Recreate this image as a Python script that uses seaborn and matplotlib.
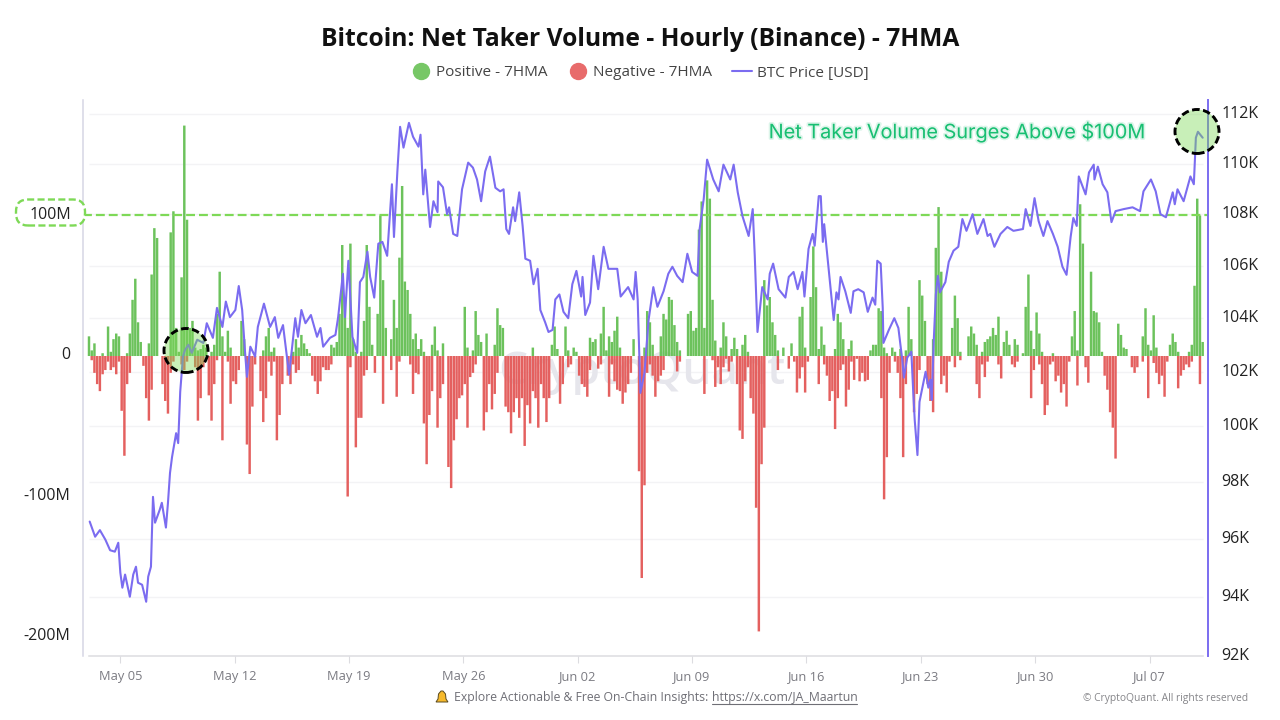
import numpy as np
import matplotlib
matplotlib.use("Agg")
import matplotlib.pyplot as plt
import matplotlib.patheffects as pe
from matplotlib.lines import Line2D
from matplotlib.patches import Circle, FancyBboxPatch, Polygon
from matplotlib.ticker import NullFormatter
from matplotlib.transforms import IdentityTransform, ScaledTranslation, blended_transform_factory
import seaborn as sns

# ---- data (hours since May 3 02:00; Net taker volume in $M on a 4-hour grid) ----
positive_m = [
 14,4,9,0,0,2,0,21,3,12, 16,14,0,0,2,16,40,55,24,10, 0,0,9,58,91,84,0,0,0,0,
 88,103,20,3,56,164,97,20,25,6, 4,5,8,6,0,3,8,30,60,14, 3,18,6,0,0,0,25,12,0,0,
 0,0,0,0,4,14,20,3,6,0, 0,0,0,0,0,3,12,6,15,9, 5,2,0,0,0,0,0,0,0,8,
 6,10,30,79,40,20,80,12,3,0, 3,25,79,35,8,0,30,100,54,20, 0,12,40,20,70,121,53,47,30,12,
 16,5,12,3,0,0,8,21,4,0, 9,0,0,0,0,0,0,0,35,6, 0,4,32,15,10,0,16,0,0,8,
 34,22,20,0,0,0,0,0,0,0, 0,0,0,6,0,0,0,0,0,0, 8,21,5,0,0,21,4,0,6,3,
 0,0,0,0,13,10,12,0,16,35, 4,14,10,18,28,6,0,0,0,0, 12,0,0,0,6,32,24,8,0,0,
 14,30,26,42,40,22,10,4,0,0, 30,32,18,20,90,110,20,125,112,40, 11,0,6,24,14,0,5,13,5,0,
 8,15,3,0,0,0,0,0,54,36, 42,24,15,4,0,6,0,0,9,0, 0,28,35,6,0,42,78,49,5,21,
 8,0,0,0,5,30,24,12,0,5, 11,0,0,0,0,0,0,4,8,8, 34,32,6,2,0,6,3,0,5,0,
 4,35,12,0,0,54,43,25,0,0, 12,77,106,60,0,0,0,20,43,27, 3,0,0,14,21,16,8,0,3,10,
 12,14,20,15,28,0,10,18,8,0, 12,8,0,2,35,58,18,5,31,16, 3,0,0,0,2,0,0,0,0,0,
 0,14,32,4,108,80,0,0,60,32, 31,24,3,0,0,0,0,0,23,15, 6,5,0,0,0,0,0,14,34,8,
 4,29,6,0,0,0,0,8,16,10, 3,0,0,0,3,8,50,112,100,10,
]
negative_m = [
 0,3,12,20,25,13,10,4,10,8, 13,4,39,71,20,12,0,0,0,0, 7,30,46,24,0,0,0,20,32,41,
 12,4,0,0,6,10,4,0,0,8, 46,30,8,0,28,46,20,3,0,60, 0,4,34,18,20,10,0,0,63,84,
 36,6,0,25,47,30,4,14,4,60, 42,20,0,14,20,6,12,10,0,0, 0,0,14,18,27,18,8,10,10,6,
 0,0,0,0,0,100,8,0,65,44, 44,14,10,0,0,12,0,0,34,0, 0,10,0,29,4,0,0,0,6,27,
 12,13,0,48,77,42,25,0,51,30, 20,0,79,94,60,45,30,28,20,51, 15,12,6,0,0,53,40,20,38,27,
 12,0,0,36,40,55,40,30,44,30, 64,35,48,25,30,51,20,30,47,30, 0,0,0,34,20,0,8,6,0,0,
 14,20,22,29,10,0,0,9,6,0, 0,29,6,18,24,25,34,26,20,12, 0,0,82,158,92,12,6,14,29,18,
 14,10,0,0,0,0,11,4,0,0, 0,0,0,0,0,0,27,0,0,3, 22,8,20,8,2,11,4,0,20,53,
 59,18,8,30,41,108,196,77,51,0, 0,0,0,10,0,0,0,9,0,4, 26,16,8,26,4,0,0,0,20,0,
 6,14,32,25,52,30,10,6,36,24, 4,17,2,18,12,18,17,0,0,0, 0,30,102,72,12,0,4,12,30,72,
 20,0,0,40,27,10,0,0,20,32, 40,0,0,20,14,26,4,0,8,0, 3,0,0,0,0,0,20,30,6,15,
 4,0,0,0,6,16,0,0,0,6, 8,4,0,0,0,0,30,10,0,6, 20,42,35,6,4,18,14,26,20,36,
 4,0,0,21,0,0,8,19,0,0, 0,0,0,14,24,40,51,73,0,0, 0,0,0,8,12,8,0,4,0,30,
 0,5,12,20,14,29,4,0,0,0, 23,14,10,6,8,4,0,0,20,0,
]
bar_step_hours = 4

price_hours = [
 1,9,16,24,31,38,43,46,49,53,60,65,69,72,78,84,87,91,94,97,104,107,113,116,119,122,128,131,134,138,
 141,146,151,159,168,173,182,188,196,201,207,215,220,225,229,232,237,244,248,257,266,273,278,285,294,303,307,312,318,326,
 335,340,344,354,362,366,373,376,381,387,394,398,403,409,413,419,425,431,438,445,448,453,457,462,470,476,484,487,491,494,
 501,506,512,513,520,526,529,535,541,548,557,564,570,576,582,589,597,604,609,613,617,623,626,632,637,641,648,653,659,663,
 670,675,681,685,691,697,704,710,716,723,725,729,736,741,748,756,763,776,781,792,800,803,806,810,816,822,829,835,844,851,
 857,864,872,879,886,894,897,903,908,917,925,932,942,947,953,960,969,975,978,982,989,997,1000,1005,1013,1023,1028,1035,1041,1048,
 1051,1057,1063,1066,1072,1075,1078,1080,1086,1094,1098,1101,1104,1111,1119,1123,1130,1138,1144,1151,1155,1158,1163,1166,1167,1175,1183,1189,1195,1197,
 1202,1208,1211,1213,1217,1220,1229,1233,1236,1238,1241,1244,1247,1250,1258,1263,1270,1277,1283,1289,1298,1305,1314,1320,1324,1330,1339,1349,1358,1372,
 1376,1383,1389,1395,1402,1408,1416,1423,1430,1436,1442,1446,1451,1454,1464,1469,1476,1477,1482,1489,1496,1502,1508,1520,1533,1544,1549,1560,1567,1574,
 1582,1592,1595,1599,1608,1618,1623,1626,1629,1636,
]
price_k = [
 96.6,96.07,96.3,95.97,95.6,95.55,95.86,94.83,94.31,94.76,94.0,94.76,95.03,94.48,94.41,93.83,94.69,95.03,97.47,96.56,97.02,97.26,96.39,97.26,98.32,98.89,99.75,99.39,101.26,102.56,
 102.81,103.0,102.7,103.19,103.07,103.81,103.26,104.39,103.67,104.63,104.04,104.31,105.22,104.31,102.81,101.81,102.93,102.56,103.67,104.55,103.67,104.04,103.26,103.74,101.89,104.0,103.3,104.31,103.81,104.12,
 103.3,103.63,102.93,103.26,103.37,104.04,105.69,104.04,106.19,103.3,102.7,105.37,105.57,106.54,105.57,104.78,106.85,106.92,106.38,109.18,107.11,109.69,111.48,110.64,111.64,111.08,110.68,111.16,108.78,109.76,
 107.5,108.51,108.08,109.29,109.06,108.0,108.27,107.23,107.15,108.98,110.04,109.84,109.37,108.51,109.69,110.28,109.04,108.9,108.98,107.42,107.23,108.27,107.73,108.86,107.54,106.27,106.19,105.29,105.88,104.31,
 103.85,103.48,103.56,104.71,104.9,104.24,104.0,105.29,105.8,104.82,105.57,104.12,104.59,106.38,105.1,106.73,105.88,105.88,104.82,105.18,104.71,105.76,104.71,101.22,101.96,103.93,105.18,104.43,105.02,105.69,
 105.96,105.61,105.37,106.46,105.76,105.61,107.42,108.59,110.16,109.37,108.9,109.96,109.37,109.96,108.86,107.92,107.15,108.2,106.38,103.48,105.18,104.71,105.69,106.08,105.1,104.78,105.57,105.76,105.1,105.76,
 104.82,106.65,107.23,106.77,108.71,108.71,106.92,107.61,106.0,103.93,104.98,104.71,105.57,105.02,104.2,105.02,105.1,104.98,104.24,104.78,104.51,106.19,106.08,104.39,103.07,103.56,104.0,103.63,102.37,101.78,
 102.52,102.74,101.15,100.22,98.96,100.89,102.0,101.41,101.7,100.96,103.19,104.9,105.61,104.98,105.37,106.15,106.58,106.73,107.81,107.35,108.0,107.23,107.81,107.15,107.23,106.73,107.23,107.5,107.35,107.42,
 108.2,107.54,108.63,107.73,107.15,107.73,107.23,106.73,105.96,105.65,107.11,107.85,107.54,109.49,108.78,109.65,109.96,109.37,109.88,109.18,108.86,107.69,108.12,108.2,108.27,108.12,108.9,109.37,108.9,108.0,
 107.88,108.86,108.39,108.98,108.51,109.49,109.18,111.04,111.28,111.04,
]

left_ticks = [100, 0, -100, -200]
left_tick_labels = ["100M", "0", "-100M", "-200M"]
price_ticks = [92, 94, 96, 98, 100, 102, 104, 106, 108, 110, 112]
price_tick_labels = ["92K", "94K", "96K", "98K", "100K", "102K", "104K", "106K", "108K", "110K", "112K"]
date_tick_hours = [46, 214, 382, 550, 718, 886, 1054, 1222, 1390, 1558]
date_tick_labels = ["May 05", "May 12", "May 19", "May 26", "Jun 02", "Jun 09", "Jun 16", "Jun 23", "Jun 30", "Jul 07"]

GREEN = "#6cc25c"
RED = "#e4605f"
PURPLE = "#7b6cf0"
LIME = "#7ed957"

sns.set_theme(style="white")
plt.rcParams["font.family"] = ["Open Sans", "DejaVu Sans"]

fig = plt.figure(figsize=(12.8, 7.2), dpi=100, facecolor="white")
ax = fig.add_axes([83/1280, 1-656/720, (1208-83)/1280, (656-100)/720])
ax.set_facecolor("none")
ax2 = ax.twinx()
ax2.set_zorder(ax.get_zorder() + 1)
ax2.patch.set_visible(False)

hours = np.arange(len(positive_m)) * bar_step_hours
neg = -np.array(negative_m, dtype=float)
pos = np.array(positive_m, dtype=float)

# light horizontal gridlines tied to the price scale, drawn below the bars
ax2.set_yscale("log")
ax2.set_ylim(92, 112.57)
ax.hlines(price_ticks[1:], 0, hours[-1], color="#f3f3f5", lw=1, zorder=0,
          transform=blended_transform_factory(ax.transData, ax2.transData))

ax.text(0.497, 0.51, "CryptoQuant", transform=ax.transAxes, ha="center", va="center",
        fontsize=33, fontweight="semibold", color="#e6e6ec", zorder=0)

sns.barplot(x=hours, y=pos, native_scale=True, width=0.9, color=GREEN, saturation=1,
            errorbar=None, linewidth=0, ax=ax, zorder=2)
sns.barplot(x=hours, y=neg, native_scale=True, width=0.9, color=RED, saturation=1,
            errorbar=None, linewidth=0, ax=ax, zorder=2)
for bar in ax.patches:
    bar.set_snap(False)
ax.axhline(100, color=LIME, lw=1.6, ls=(0, (4, 1.8)), zorder=3)

sns.lineplot(x=price_hours, y=price_k, color=PURPLE, lw=1.5, ax=ax2, estimator=None, sort=False, zorder=4)

xlim = ((83-89)*1.469, (1208-89)*1.469)
ax.set_xlim(xlim)
ax.set_ylim(-213.5, 182.2)
ax2.set_xlim(xlim)
ax2.set_ylim(92, 112.57)

ax.set_xlabel(""); ax.set_ylabel(""); ax2.set_ylabel(""); ax2.set_xlabel("")
ax.grid(False); ax2.grid(False)

ax.set_yticks(left_ticks, left_tick_labels)
ax.tick_params(axis="y", length=0, pad=9.4, labelsize=11.5, labelcolor="#222222")
ax.set_xticks(date_tick_hours, date_tick_labels)
ax.tick_params(axis="x", length=5, width=0.8, color="#dcdce0", pad=5, labelsize=9.3, labelcolor="#7b7b82", bottom=True)

ax2.set_yticks(price_ticks, price_tick_labels)
ax2.minorticks_off()
ax2.tick_params(axis="y", which="both", length=0, pad=9.4, labelsize=11.5, labelcolor="#222222")
ax2.yaxis.set_minor_formatter(NullFormatter())

for t in ax.get_yticklabels():
    t.set_transform(t.get_transform() + ScaledTranslation(0, 3/100, fig.dpi_scale_trans))
for t in ax2.get_yticklabels():
    t.set_transform(t.get_transform() + ScaledTranslation(0, 2/100, fig.dpi_scale_trans))

for a in (ax, ax2):
    for s in a.spines.values():
        s.set_visible(False)
ax.spines["left"].set_visible(True)
ax.spines["left"].set_color("#d6d6e4")
ax.spines["left"].set_linewidth(1.1)
ax.spines["bottom"].set_visible(True)
ax.spines["bottom"].set_color("#dcdce0")
ax.spines["bottom"].set_linewidth(1.1)
ax.spines["bottom"].set_bounds(0, hours[-1])
ax2.spines["right"].set_visible(True)
ax2.spines["right"].set_color(PURPLE)
ax2.spines["right"].set_linewidth(1.4)

# title and legend
fig.text(640/1280, 1-39/720, "Bitcoin: Net Taker Volume - Hourly (Binance) - 7HMA",
         ha="center", va="center", fontsize=17.75, fontweight="bold", color="#111111")
handles = [
    Line2D([], [], ls="", marker="o", ms=11.5, color="#77c766", label="Positive - 7HMA"),
    Line2D([], [], ls="", marker="o", ms=11.5, color="#e86b6b", label="Negative - 7HMA"),
    Line2D([], [], color=PURPLE, lw=1.5, label="BTC Price [USD]"),
]
fig.legend(handles=handles, loc="center", bbox_to_anchor=(640/1280, 1-73/720), ncol=3, frameon=False,
           fontsize=11, labelcolor="#444444", handlelength=1.3, handletextpad=0.35, columnspacing=1.3)

# annotation
fig.text(957/1280, 1-132/720, "Net Taker Volume Surges Above $100M", ha="center", va="center",
         fontsize=14.3, fontfamily="Inter", color="#18bf72",
         path_effects=[pe.withStroke(linewidth=2.5, foreground="#18bf72", alpha=0.15)])

# overlays in pixel space
H = 720
ident = IdentityTransform()
for cx, cy in [(186, 350.5), (1197, 131.5)]:
    fig.add_artist(Circle((cx, H-cy), 22, transform=ident, facecolor=(0.49, 0.85, 0.34, 0.42),
                          edgecolor="black", lw=2.1, ls=(0, (2.6, 1.2)), zorder=5))
fig.add_artist(FancyBboxPatch((16, H-225.5), 69, 26, boxstyle="round,pad=0,rounding_size=12",
                              transform=ident, facecolor="white", edgecolor=LIME,
                              lw=1.7, ls=(0, (3, 1.4)), zorder=5))
fig.text(50.5/1280, 1-215.5/720, "100M", ha="center", va="center", fontsize=11.5, color="#222222", zorder=6)
for t, v in zip(ax.get_yticklabels(), left_ticks):
    if v == 100:
        t.set_visible(False)

# footer
bell = [(436, 702), (438, 699), (438.5, 694), (441, 691), (443, 691), (445.5, 694), (446, 699), (448, 702)]
fig.add_artist(Polygon([(x, H-y) for x, y in bell], closed=True, transform=ident,
                       facecolor="#f6b92b", edgecolor="#5a4a20", lw=0.7, zorder=5))
fig.text(454/1280, 1-697/720, "Explore Actionable & Free On-Chain Insights: ", ha="left", va="center",
         fontsize=8.8, color="#6f6f76")
fig.text(712/1280, 1-697/720, "https://x.com/JA_Maartun", ha="left", va="center", fontsize=8.8, color="#6f6f76")
fig.add_artist(Line2D([712, 857], [H-704, H-704], transform=ident, color="#6f6f76", lw=0.8))
fig.text(1248/1280, 1-698/720, "© CryptoQuant. All rights reserved", ha="right", va="center",
         fontsize=7.4, color="#858589")

fig.savefig("out.png", dpi=100)
